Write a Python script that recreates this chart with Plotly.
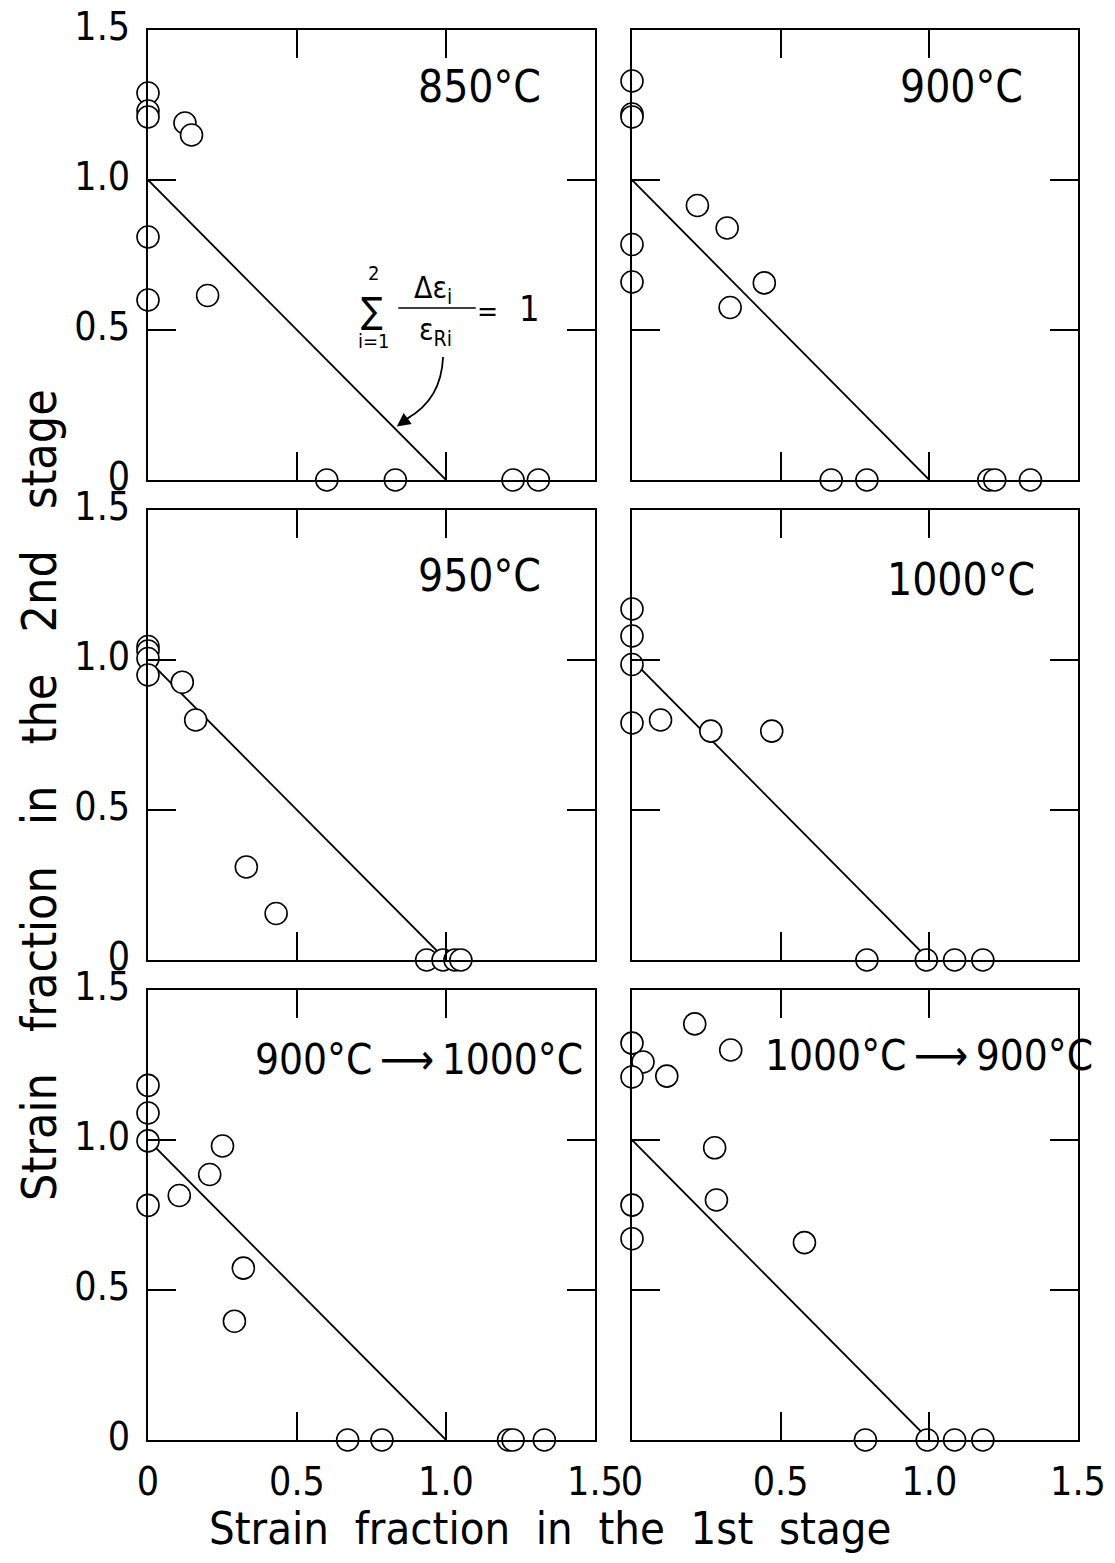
import plotly.graph_objects as go
from plotly.subplots import make_subplots

# page is 1115x1563 with an 8px body margin -> keep the figure inside the page
OFF = 8
W, H = 1115 - 2 * OFF, 1563 - 2 * OFF
FONT = "DejaVu Sans Condensed, Liberation Sans Narrow, sans-serif"

# ---------------- data ----------------
tick_vals = [0, 0.5, 1.0, 1.5]
tick_text = ["0", "0.5", "1.0", "1.5"]

# reference line  sum(de_i / e_Ri) = 1
line_x = [0.0, 1.0]
line_y = [1.0, 0.0]

panel_labels = ["850°C", "900°C", "950°C", "1000°C",
                "900°C\u2009\u27f6\u20091000°C", "1000°C\u2009\u27f6\u2009900°C"]

x_850 = [0, 0, 0, 0, 0, 0.124, 0.146, 0.20, 0.60, 0.83, 1.225, 1.31]
y_850 = [1.29, 1.23, 1.21, 0.81, 0.60, 1.19, 1.15, 0.615, 0, 0, 0, 0]

x_900 = [0, 0, 0, 0, 0, 0.22, 0.32, 0.445, 0.33, 0.67, 0.79, 1.20, 1.22, 1.34]
y_900 = [1.33, 1.22, 1.21, 0.785, 0.66, 0.915, 0.84, 0.657, 0.575, 0, 0, 0, 0, 0]

x_950 = [0, 0, 0, 0, 0.115, 0.16, 0.33, 0.43, 0.935, 0.99, 1.03, 1.05]
y_950 = [1.045, 1.03, 1.005, 0.95, 0.926, 0.80, 0.31, 0.155, 0, 0, 0, 0]

x_1000 = [0, 0, 0, 0, 0.096, 0.265, 0.47, 0.79, 0.99, 1.085, 1.18]
y_1000 = [1.17, 1.08, 0.985, 0.79, 0.80, 0.763, 0.763, 0, 0, 0, 0]

x_900_1000 = [0, 0, 0, 0, 0.105, 0.207, 0.25, 0.32, 0.29, 0.67, 0.785, 1.21, 1.225, 1.33]
y_900_1000 = [1.182, 1.09, 0.997, 0.782, 0.815, 0.885, 0.98, 0.573, 0.396, 0, 0, 0, 0, 0]

x_1000_900 = [0, 0.037, 0, 0.117, 0.211, 0.332, 0.278, 0.284, 0.58, 0, 0, 0.785, 0.993, 1.085, 1.18]
y_1000_900 = [1.323, 1.26, 1.21, 1.213, 1.387, 1.30, 0.974, 0.80, 0.658, 0.783, 0.671, 0, 0, 0, 0]

panel_x = [x_850, x_900, x_950, x_1000, x_900_1000, x_1000_900]
panel_y = [y_850, y_900, y_950, y_1000, y_900_1000, y_1000_900]

# label placement (data coords), anchor and size for each panel
label_x = [1.114, 1.107, 1.114, 1.107, 1.466, 0.44]
label_y = [1.31, 1.31, 1.283, 1.267, 1.267, 1.283]
label_anchor = ["center", "center", "center", "center", "right", "left"]
label_size = [44, 44, 44, 44, 42, 42]

# ---------------- layout geometry (page pixels) ----------------
COLS = [(148, 595), (632, 1078)]
ROWS = [(30, 480), (510, 960), (990, 1440)]


def px(x):
    return (x - OFF) / W


def py(y):
    return 1 - (y - OFF) / H


fig = make_subplots(rows=3, cols=2)

for i in range(6):
    r, c = i // 2 + 1, i % 2 + 1
    fig.add_trace(go.Scatter(x=line_x, y=line_y, mode="lines",
                             line=dict(color="black", width=1.8),
                             hoverinfo="skip", showlegend=False), row=r, col=c)
    fig.add_trace(go.Scatter(x=panel_x[i], y=panel_y[i], mode="markers",
                             marker=dict(symbol="circle", size=22, color="white",
                                         line=dict(color="black", width=1.6)),
                             cliponaxis=False, showlegend=False), row=r, col=c)
    xs, ys = COLS[c - 1], ROWS[r - 1]
    common = dict(range=[0, 1.5], tickvals=tick_vals, ticktext=tick_text,
                  ticks="inside", ticklen=28, tickwidth=1.5, tickcolor="black",
                  showline=True, linecolor="black", linewidth=2.2, mirror="ticks",
                  showgrid=False, zeroline=False, fixedrange=True, automargin=False,
                  ticklabeloverflow="allow",
                  tickfont=dict(family=FONT, size=39, color="black"))
    fig.update_xaxes(domain=[px(xs[0]), px(xs[1])], showticklabels=(r == 3),
                     ticklabelstandoff=6, row=r, col=c, **common)
    fig.update_yaxes(domain=[py(ys[1]), py(ys[0])], showticklabels=(c == 1),
                     ticklabelstandoff=8, ticklabelshift=-4, row=r, col=c, **common)
    suffix = "" if i == 0 else str(i + 1)
    fig.add_annotation(x=label_x[i], y=label_y[i], xref="x" + suffix, yref="y" + suffix,
                       text=panel_labels[i], showarrow=False, xanchor=label_anchor[i],
                       yanchor="middle",
                       font=dict(family=FONT, size=label_size[i], color="black"))

# ---------------- formula annotation in 850 °C panel ----------------
ff = dict(family=FONT, color="black")
fig.add_annotation(x=0.752, y=0.565, xref="x", yref="y", text="\u2211", showarrow=False,
                   font=dict(size=36, **ff))
fig.add_annotation(x=0.758, y=0.69, xref="x", yref="y", text="2", showarrow=False,
                   font=dict(size=20, **ff))
fig.add_annotation(x=0.758, y=0.463, xref="x", yref="y", text="i=1", showarrow=False,
                   font=dict(size=20, **ff))
fig.add_annotation(x=0.955, y=0.635, xref="x", yref="y", text="\u0394\u03b5<sub>i</sub>",
                   showarrow=False, font=dict(size=30, **ff))
fig.add_annotation(x=0.965, y=0.495, xref="x", yref="y", text="\u03b5<sub>Ri</sub>",
                   showarrow=False, font=dict(size=30, **ff))
fig.add_annotation(x=1.14, y=0.56, xref="x", yref="y", text="=",
                   showarrow=False, font=dict(size=28, **ff))
fig.add_annotation(x=1.28, y=0.57, xref="x", yref="y", text="1",
                   showarrow=False, font=dict(size=36, **ff))
fig.add_shape(type="line", xref="x", yref="y", x0=0.84, x1=1.10, y0=0.573, y1=0.573,
              line=dict(color="black", width=1.5))
# curved arrow pointing at the line
fig.add_shape(type="path", xref="x", yref="y",
              path="M 0.99,0.41 Q 0.985,0.27 0.87,0.205",
              line=dict(color="black", width=1.8))
fig.add_annotation(x=0.835, y=0.178, ax=0.885, ay=0.215, xref="x", yref="y",
                   axref="x", ayref="y", text="", showarrow=True, arrowhead=2,
                   arrowsize=1.5, arrowwidth=1.8, arrowcolor="black")

# ---------------- axis titles ----------------
sp2 = "\u00a0\u00a0"
sp3 = "\u00a0\u00a0\u00a0"
fig.add_annotation(x=px(550), y=py(1528), xref="paper", yref="paper",
                   xanchor="center", yanchor="middle",
                   text=sp2.join(["Strain", "fraction", "in", "the", "1st", "stage"]),
                   showarrow=False, font=dict(family=FONT, size=45, color="black"))
fig.add_annotation(x=px(39), y=py(795), xref="paper", yref="paper", textangle=-90,
                   xanchor="center", yanchor="middle",
                   text=sp3.join(["Strain", "fraction", "in", "the", "2nd", "stage"]),
                   showarrow=False, font=dict(family=FONT, size=48, color="black"))

fig.update_layout(width=W, height=H, margin=dict(l=0, r=0, t=0, b=0, autoexpand=False),
                  paper_bgcolor="white", plot_bgcolor="white", showlegend=False)

fig.write_html("out.html")
